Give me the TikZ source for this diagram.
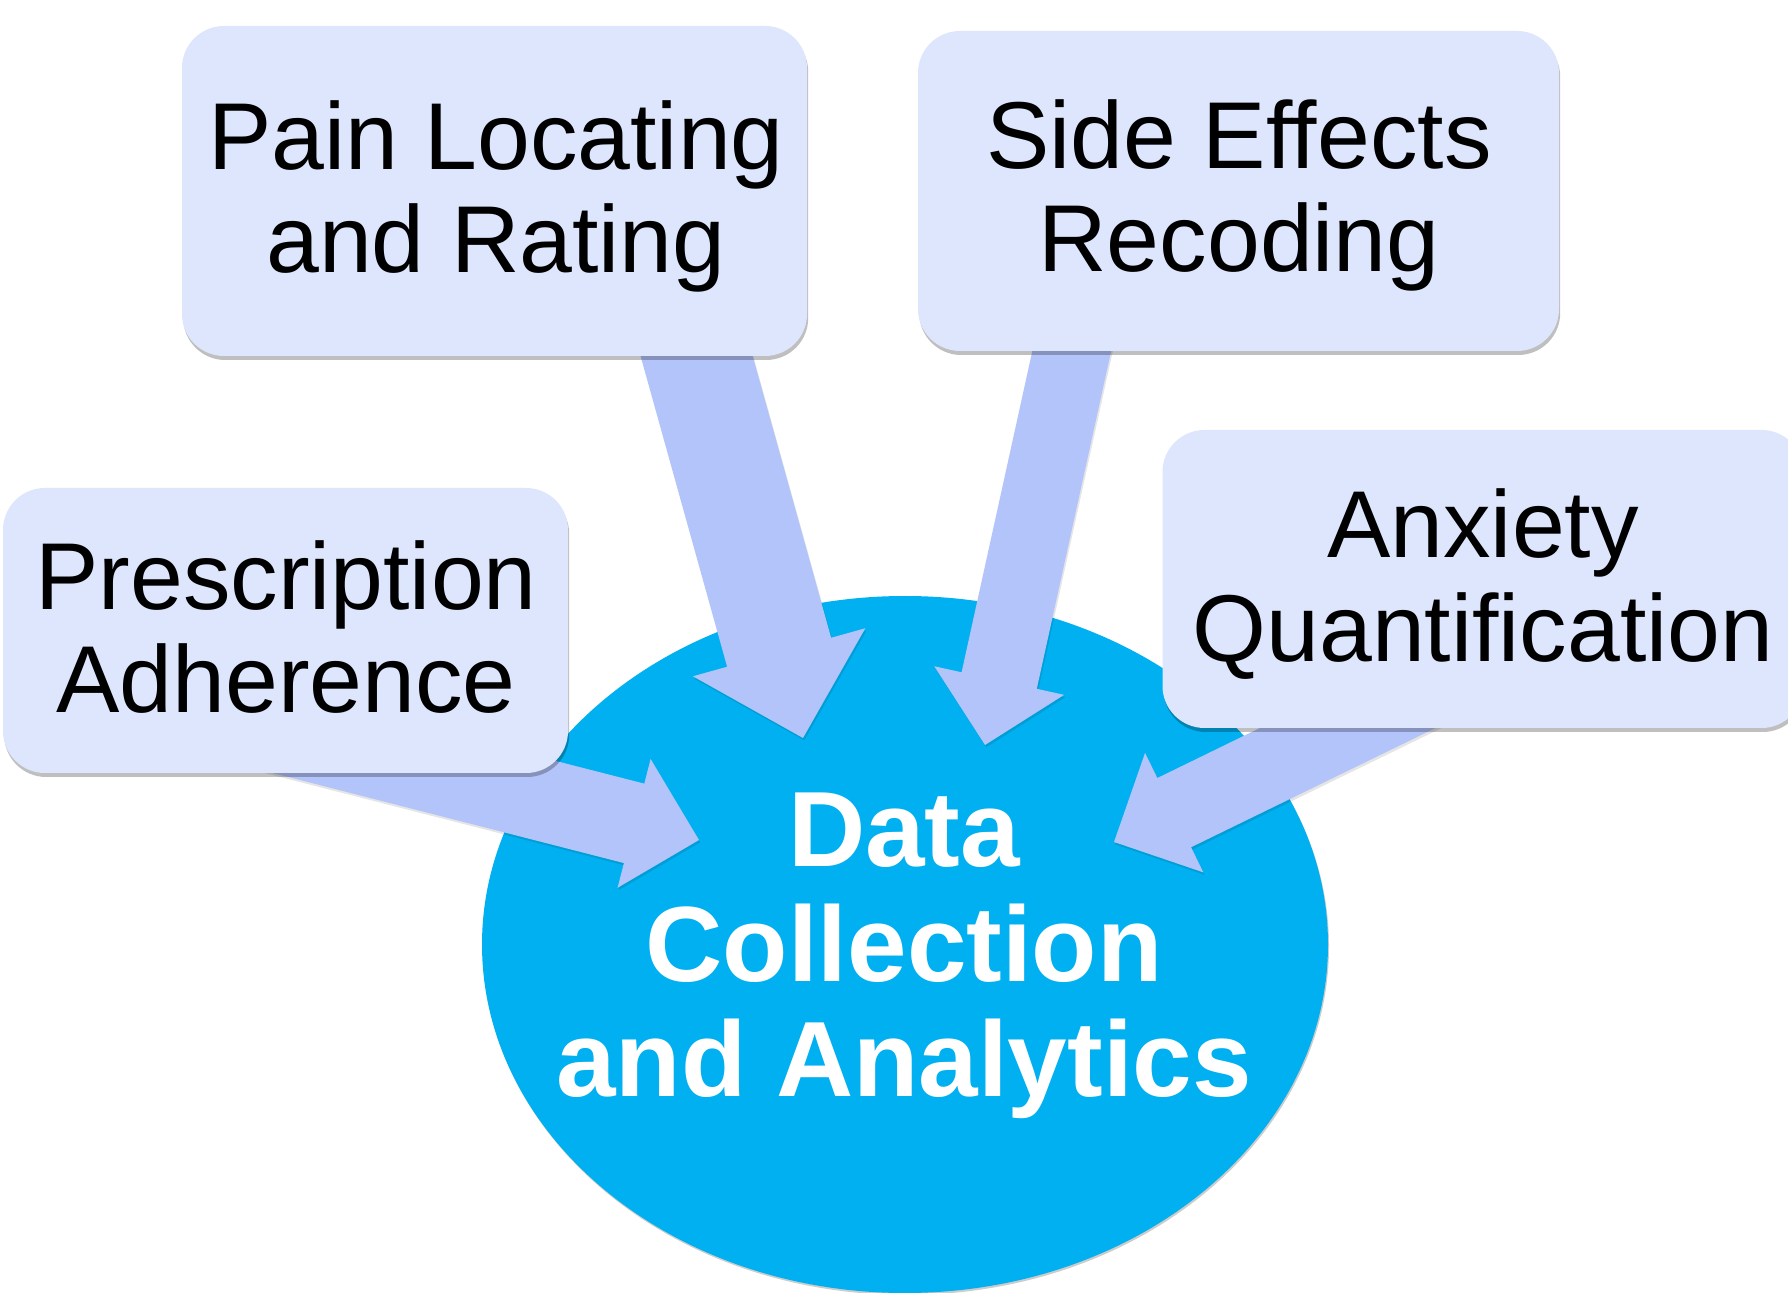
\documentclass[tikz,border=0pt]{standalone}
\usepackage{fontspec}
\setmainfont{Liberation Sans}
\usetikzlibrary{calc,shapes.geometric,shadows}
\definecolor{boxfill}{HTML}{DDE6FC}
\definecolor{arrowfill}{HTML}{B3C4FA}
\definecolor{corefill}{HTML}{00B0F0}
% #1 tail, #2 tip, #3 half shaft width, #4 half head width, #5 head length
\newcommand{\blockarrow}[5]{%
  \coordinate (ba) at ($(#2)!#5!(#1)$);
  \coordinate (s1) at ($(#1)!#3!90:(#2)$);
  \coordinate (s2) at ($(ba)!#3!90:(#2)$);
  \coordinate (h1) at ($(ba)!#4!90:(#2)$);
  \coordinate (h2) at ($(ba)!#4!-90:(#2)$);
  \coordinate (s3) at ($(ba)!#3!-90:(#2)$);
  \coordinate (s4) at ($(#1)!#3!-90:(#2)$);
  \begin{scope}[transform canvas={xshift=0.6pt,yshift=-1.2pt}]
    \fill[black, opacity=0.1] (s1) -- (s2) -- (h1) -- (#2) -- (h2) -- (s3) -- (s4) -- cycle;
  \end{scope}
  \fill[arrowfill] (s1) -- (s2) -- (h1) -- (#2) -- (h2) -- (s3) -- (s4) -- cycle;
}
\begin{document}
\begin{tikzpicture}[x=0.5pt,y=-0.5pt,
  box/.style={rectangle, rounded corners=21pt, fill=boxfill, inner sep=0pt,
    drop shadow={shadow xshift=0.6pt, shadow yshift=-2pt, opacity=0.25, fill=black}},
  boxtxt/.style={inner sep=0pt, anchor=base, text=black,
    font=\fontsize{47.5pt}{52pt}\selectfont},
  coretxt/.style={inner sep=0pt, anchor=base, text=white,
    font=\fontsize{53.5pt}{57.5pt}\selectfont\bfseries},
  core/.style={ellipse, fill=corefill, inner sep=0pt,
    drop shadow={shadow xshift=0.5pt, shadow yshift=-1pt, opacity=0.2, fill=black}}]
\clip (0,0) rectangle (1788,1293);
\fill[white] (0,0) rectangle (1788,1293);

% central ellipse
\node[core, minimum width=423pt, minimum height=348.5pt] (core) at (905,944.5) {};

% arrow end points
\coordinate (t1) at (118,691);   \coordinate (p1) at (699,840);
\coordinate (t2) at (642,160);   \coordinate (p2) at (803,738);
\coordinate (t3) at (1114,159);  \coordinate (p3) at (985,745);
\coordinate (t4) at (1563,623);  \coordinate (p4) at (1114,842);

\blockarrow{t1}{p1}{20.5pt}{33.25pt}{33.5pt}
\blockarrow{t2}{p2}{27pt}{44.75pt}{44.5pt}
\blockarrow{t3}{p3}{19.25pt}{33.25pt}{33pt}
\blockarrow{t4}{p4}{19.25pt}{33.25pt}{33.5pt}

% boxes
\node[box, minimum width=282.5pt, minimum height=142.5pt] (presc) at (285.5,630.5) {};
\node[box, minimum width=312.5pt, minimum height=165pt] (pain) at (494.5,191) {};
\node[box, minimum width=320.5pt, minimum height=160pt] (side) at (1238.5,191) {};
\node[box, minimum width=320.5pt, minimum height=149pt] (anx) at (1483,579) {};

% texts
\node[boxtxt] (painA) at (496,170) {Pain Locating};
\node[boxtxt] (painB) at (496,273) {and Rating};
\node[boxtxt] (sideA) at (1239,169) {Side Effects};
\node[boxtxt] (sideB) at (1239,272) {Recoding};
\node[boxtxt] (prescA) at (286,610) {Prescription};
\node[boxtxt] (prescB) at (286,713) {Adherence};
\node[boxtxt] (anxA) at (1483,558) {Anxiety};
\node[boxtxt] (anxB) at (1483,662) {Quantification};

\node[coretxt] (coreA) at (904,866.7) {Data};
\node[coretxt] (coreB) at (904,981.7) {Collection};
\node[coretxt] (coreC) at (904,1096.7) {and Analytics};
\end{tikzpicture}
\end{document}
